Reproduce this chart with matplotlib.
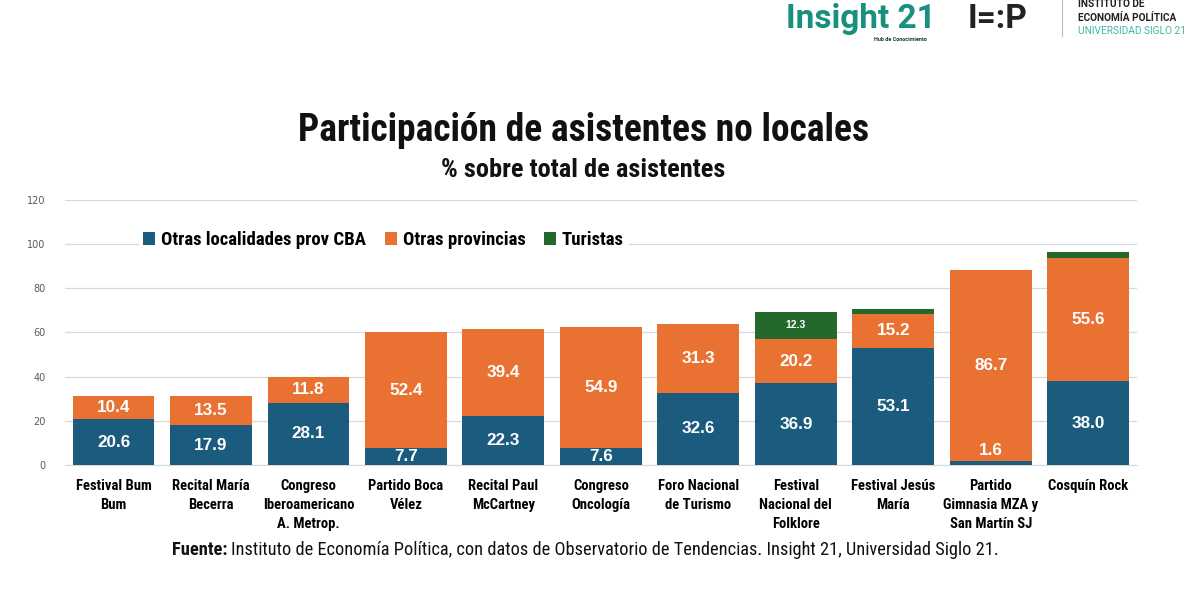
import matplotlib
matplotlib.use("Agg")
import matplotlib.pyplot as plt
import numpy as np

categories = ["Festival Bum\nBum", "Recital María\nBecerra", "Congreso\nIberoamericano\nA. Metrop.",
              "Partido Boca\nVélez", "Recital Paul\nMcCartney", "Congreso\nOncología",
              "Foro Nacional\nde Turismo", "Festival\nNacional del\nFolklore", "Festival Jesús\nMaría",
              "Partido\nGimnasia MZA y\nSan Martín SJ", "Cosquín Rock"]
otras_localidades = [20.6, 17.9, 28.1, 7.7, 22.3, 7.6, 32.6, 36.9, 53.1, 1.6, 38.0]
otras_provincias = [10.4, 13.5, 11.8, 52.4, 39.4, 54.9, 31.3, 20.2, 15.2, 86.7, 55.6]
turistas = [0, 0, 0, 0, 0, 0, 0, 12.3, 2.4, 0, 2.9]
series_names = ["Otras localidades prov CBA", "Otras provincias", "Turistas"]
yticks = [0, 20, 40, 60, 80, 100, 120]

colors = ["#1b5c7e", "#e97132", "#23692b"]
narrow = ["Liberation Sans Narrow", "Roboto Condensed", "Liberation Sans", "DejaVu Sans"]
bold_sans = ["Liberation Sans", "DejaVu Sans"]

fig = plt.figure(figsize=(12, 6.02), dpi=100)
ax = fig.add_axes([0.054, 0.2276, 0.8935, 0.4404])

x = np.arange(len(categories))
w = 0.84
series = [np.array(otras_localidades), np.array(otras_provincias), np.array(turistas)]
bottom = np.zeros(len(x))
for i, (vals, name) in enumerate(zip(series, series_names)):
    ax.bar(x, vals, w, bottom=bottom, color=colors[i], label=name, zorder=3)
    for xi, v, b in zip(x, vals, bottom):
        if v <= 0:
            continue
        if i == 2:
            if v >= 5:
                ax.text(xi, b + v / 2, f"{v:.1f}", ha="center", va="center", color="white",
                        fontsize=7.5, fontweight="bold", family=bold_sans, zorder=4)
            continue
        ypos = b + v / 2
        if v < 3:
            ypos = b + v + 5
        ax.text(xi, ypos, f"{v:.1f}", ha="center", va="center", color="white",
                fontsize=12.3, fontweight="bold", family=bold_sans, zorder=4)
    bottom = bottom + vals

ax.set_xlim(-0.5, len(x) - 0.5)
ax.set_ylim(0, 120)
ax.set_yticks(yticks)
ax.set_yticklabels([str(t) for t in yticks], fontsize=7, color="#595959")
ax.yaxis.grid(True, color="#d9d9d9", linewidth=0.9, zorder=0)
ax.tick_params(axis="y", length=0, pad=14)
ax.tick_params(axis="x", length=0, pad=10)
ax.set_xticks(x)
ax.set_xticklabels(categories, fontsize=10.5, fontweight="bold", family=narrow, linespacing=1.45,
                   va="top")
for s in ax.spines.values():
    s.set_visible(False)
ax.spines["bottom"].set_visible(True)
ax.spines["bottom"].set_color("#d9d9d9")

leg = ax.legend(loc="center left", bbox_to_anchor=(0.06, 0.848), ncol=3, frameon=True,
                prop={"family": narrow, "weight": "bold", "size": 13.5},
                handlelength=0.65, handleheight=0.65, handletextpad=0.3, columnspacing=1.0,
                borderpad=0.25)
leg.get_frame().set_facecolor("white")
leg.get_frame().set_edgecolor("white")
leg.get_frame().set_alpha(1)
leg.set_zorder(5)

fig.text(0.486, 0.783, "Participación de asistentes no locales", ha="center", va="center",
         fontsize=27, fontweight="bold", family=narrow, color="#111111")
fig.text(0.486, 0.718, "% sobre total de asistentes", ha="center", va="center",
         fontsize=19, fontweight="bold", family=narrow, color="#111111")

# Source
t1 = fig.text(0.143, 0.086, "Fuente:", ha="left", va="center", fontsize=13.25, fontweight="bold",
              family=narrow, color="#111111")
fig.canvas.draw()
bb = t1.get_window_extent()
x2 = bb.x1 / fig.bbox.width + 0.003
fig.text(x2, 0.086, "Instituto de Economía Política, con datos de Observatorio de Tendencias. Insight 21, Universidad Siglo 21.",
         ha="left", va="center", fontsize=13.25, family=narrow, color="#111111")

# Logos (text approximations)
fig.text(0.655, 0.968, "Insight 21", ha="left", va="center", fontsize=24, fontweight="bold",
         family=["Roboto", "DejaVu Sans"], color="#17907e")
fig.text(0.728, 0.935, "Hub de Conocimiento", ha="left", va="center", fontsize=4,
         fontweight="bold", family=["Roboto", "DejaVu Sans"], color="#1f3a3a")
fig.text(0.806, 0.968, "I=:P", ha="left", va="center", fontsize=24, fontweight="bold",
         family=["Roboto", "DejaVu Sans"], color="#222222")
fig.add_artist(plt.Line2D([0.885, 0.885], [0.94, 1.0], color="#bbbbbb", lw=0.8,
                          transform=fig.transFigure))
fig.text(0.898, 0.993, "INSTITUTO DE", ha="left", va="center", fontsize=7.3, fontweight="bold",
         family=["Roboto", "DejaVu Sans"], color="#222222")
fig.text(0.898, 0.970, "ECONOMÍA POLÍTICA", ha="left", va="center", fontsize=7.3, fontweight="bold",
         family=["Roboto", "DejaVu Sans"], color="#222222")
fig.text(0.898, 0.948, "UNIVERSIDAD SIGLO 21", ha="left", va="center", fontsize=7.3,
         family=["Roboto", "DejaVu Sans"], color="#3fb8a5")

fig.savefig("out.png", dpi=100, facecolor="white")
